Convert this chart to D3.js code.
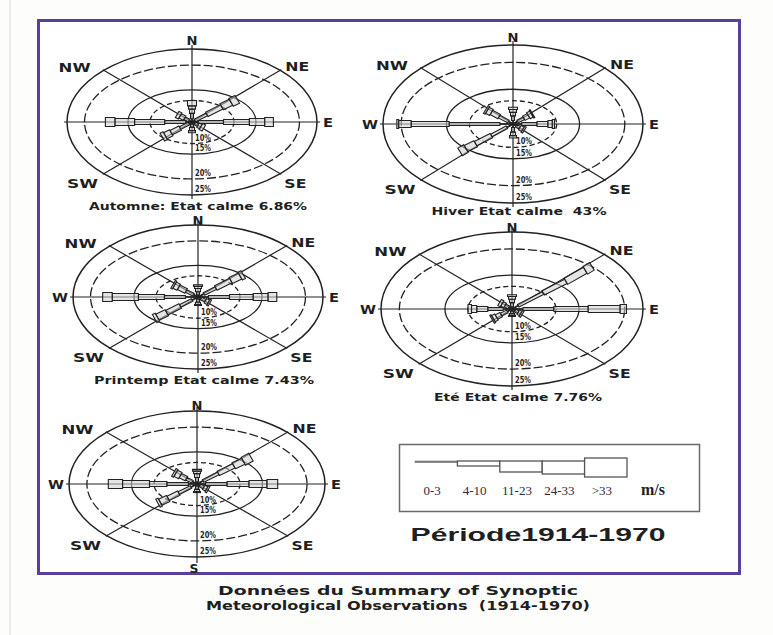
<!DOCTYPE html>
<html>
<head>
<meta charset="utf-8">
<script src="https://cdn.jsdelivr.net/npm/d3@7"></script>
<style>
  body { margin: 0; background: #fdfdfc; }
  svg text { font-family: "DejaVu Sans", "Liberation Sans", Arial, sans-serif; font-weight: bold; fill: #1f1f1f; white-space: pre; }
  svg text.serif { font-family: "Liberation Serif", "DejaVu Serif", serif; font-weight: normal; }
</style>
</head>
<body>
<div id="chart"></div>
<script>
// --- data ---
const directions = ["N", "NE", "E", "SE", "S", "SW", "W", "NW"];
const directionAngles = [90, 45, 0, -45, -90, -135, 180, 135];
const speedClasses = ["0-3", "4-10", "11-23", "24-33", ">33"];
const ringTicks = [10, 15, 20, 25];
const captions = ["Automne: Etat calme 6.86%", "Hiver Etat calme  43%", "Printemp Etat calme 7.43%", "Eté Etat calme 7.76%", ""];

// frequency (%) per direction (N .. NW), per speed class (0-3 .. >33)
const automne = [
  [1.5, 2.5, 2, 1.5, 2.5],
  [1, 4, 5, 3, 2],
  [1.5, 6, 6, 2.5, 1],
  [1, 1, 1, 1, 0],
  [1, 1.5, 1.5, 1, 0],
  [1, 3, 3, 2, 1],
  [1.5, 5, 7, 3, 1.1],
  [1, 1.5, 1.5, 1, 0]
];
const hiver = [
  [1.5, 2, 1.5, 1.2, 1],
  [1.5, 2, 1.5, 1, 0.3],
  [2, 3.5, 2.5, 1, 0.5],
  [1, 1.2, 1, 0.5, 0],
  [1.5, 2, 1.5, 1, 0],
  [2, 5, 5, 3, 0.9],
  [3, 11.4, 4.5, 1.8, 0.5],
  [1.5, 3, 2.5, 1.3, 0.5]
];
const printemp = [
  [1, 1.5, 1.5, 1, 0.8],
  [2, 4, 5, 3, 1],
  [2.5, 5, 5.5, 2.7, 1],
  [1, 1.5, 1, 0.5, 0],
  [1, 1.5, 1, 0.5, 0],
  [2, 4, 4.5, 3, 0.9],
  [3, 5, 6, 3.5, 1.1],
  [1.5, 2.5, 2.5, 1.4, 0.5]
];
const ete = [
  [1, 1.8, 1.5, 1.2, 0.8],
  [2, 8, 6, 3, 1.1],
  [2.5, 7, 6.5, 3.5, 1],
  [1, 1, 0.8, 0.5, 0],
  [1, 1, 0.8, 0.5, 0],
  [1.5, 2, 1.5, 1, 0.4],
  [2, 3.5, 2.5, 1.2, 0.8],
  [1, 1.2, 1, 0.8, 0]
];
const annuel = [
  [1, 2, 1.8, 1.2, 0.8],
  [2, 5, 5, 3, 1.2],
  [2, 5, 5, 3.5, 1.2],
  [1, 1.2, 1, 0.5, 0],
  [1, 1.5, 1, 0.5, 0],
  [2, 4, 3.5, 2.5, 0.7],
  [2, 5, 4, 5, 1.6],
  [1.5, 2, 2, 1.5, 0.6]
];

// --- layout ---
const width = 773, height = 635;
const ink = "#222";

const roses = [
  { data: automne,  cx: 192, cy: 122, rx: 125, ry: 73, capW: 218, capDy: 84, nDy: -9, labels: ["N", "NE", "E", "SE", "SW", "NW"] },
  { data: hiver,    cx: 513, cy: 124, rx: 130, ry: 79, capW: 175, capDy: 87, nDy: -8, labels: ["N", "NE", "E", "SE", "SW", "W", "NW"] },
  { data: printemp, cx: 198, cy: 297, rx: 125, ry: 72, capW: 220, capDy: 83, nDy: -5, labels: ["N", "NE", "E", "SE", "SW", "W", "NW"] },
  { data: ete,      cx: 512, cy: 309, rx: 131, ry: 77, capW: 168, capDy: 88, nDy: -5, labels: ["N", "NE", "E", "SE", "SW", "W", "NW"] },
  { data: annuel,   cx: 197, cy: 484, rx: 128, ry: 73, capW: 0,   capDy: 0,  nDy: -6, labels: ["N", "NE", "E", "SE", "S", "SW", "W", "NW"] }
];
roses.forEach((r, i) => r.caption = captions[i]);

const labelOffset = { N: [0, -9], NE: [17, -4], E: [11, 0], SE: [15, 10], S: [-3, 11], SW: [-21, 10], W: [-13, 0], NW: [-29, -3] };
const labelWidth = { N: 11, NE: 24, E: 10, SE: 22, S: 9, SW: 31, W: 16, NW: 32 };

// percent -> fraction of the outer (25%) ring, as the rings are drawn on the figure
const radiusX = d3.scaleLinear().domain([0, 10, 15, 20, 25]).range([0, 0.336, 0.512, 0.86, 1]);
const radiusY = d3.scaleLinear().domain([0, 10, 15, 20, 25]).range([0, 0.295, 0.44, 0.78, 1]);
const petalWidth = d3.scaleOrdinal().domain(speedClasses).range([1.2, 3, 5, 7, 9]);

const svg = d3.select("#chart").append("svg")
    .attr("width", width)
    .attr("height", height);

svg.append("rect").attr("width", width).attr("height", height).attr("fill", "#fdfdfc");
svg.append("line").attr("x1", 10).attr("x2", 10).attr("y1", 0).attr("y2", height)
    .attr("stroke", "#ececec").attr("stroke-width", 2);

svg.append("rect")
    .attr("x", 38.5).attr("y", 20.5)
    .attr("width", 701).attr("height", 553)
    .attr("fill", "#ffffff")
    .attr("stroke", "#5b3f9c")
    .attr("stroke-width", 3);

function addText(g, txt, x, y, size, len) {
  const t = g.append("text")
      .attr("x", x).attr("y", y)
      .attr("text-anchor", "middle")
      .attr("dominant-baseline", "central")
      .style("font-size", size + "px")
      .text(txt);
  if (len) t.attr("textLength", len).attr("lengthAdjust", "spacingAndGlyphs");
  return t;
}

roses.forEach(rose => {
  const g = svg.append("g");
  const pt = (deg, p) => {
    const a = deg * Math.PI / 180;
    return [rose.cx + radiusX(p) * rose.rx * Math.cos(a), rose.cy - radiusY(p) * rose.ry * Math.sin(a)];
  };

  // rings
  g.selectAll("ellipse")
    .data(ringTicks)
    .join("ellipse")
      .attr("cx", rose.cx).attr("cy", rose.cy)
      .attr("rx", d => radiusX(d) * rose.rx)
      .attr("ry", d => radiusY(d) * rose.ry)
      .attr("fill", "none")
      .attr("stroke", ink)
      .attr("stroke-width", d => d == 25 ? 1.5 : 1.3)
      .attr("stroke-dasharray", d => d == 10 ? "5,3" : d == 20 ? "9,3" : null);

  // spokes
  const spokes = [
    [[rose.cx, rose.cy - rose.ry - 4], [rose.cx, rose.cy + rose.ry + (rose.labels.includes("S") ? 6 : 4)]],
    [[rose.cx - rose.rx - 3, rose.cy], [rose.cx + rose.rx + 3, rose.cy]],
    [pt(135, 25.3), pt(-45, 25.3)],
    [pt(45, 25.3), pt(-135, 25.3)]
  ];
  g.selectAll("line.spoke")
    .data(spokes)
    .join("line")
      .attr("class", "spoke")
      .attr("x1", d => d[0][0]).attr("y1", d => d[0][1])
      .attr("x2", d => d[1][0]).attr("y2", d => d[1][1])
      .attr("stroke", ink)
      .attr("stroke-width", 1.2);

  // petals
  const segs = [];
  rose.data.forEach((vals, di) => {
    let cum = 0;
    vals.forEach((v, ci) => {
      if (v > 0) segs.push({ deg: directionAngles[di], s: cum, e: cum + v, cls: speedClasses[ci], ci });
      cum += v;
    });
  });
  const quad = d => {
    const p0 = pt(d.deg, d.s), p1 = pt(d.deg, d.e);
    const a = d.deg * Math.PI / 180;
    const ux = Math.cos(a) * rose.rx, uy = -Math.sin(a) * rose.ry, L = Math.hypot(ux, uy);
    const w = petalWidth(d.cls) / 2, nx = -uy / L * w, ny = ux / L * w;
    return [[p0[0] + nx, p0[1] + ny], [p1[0] + nx, p1[1] + ny], [p1[0] - nx, p1[1] - ny], [p0[0] - nx, p0[1] - ny]];
  };
  g.selectAll("path.petal")
    .data(segs)
    .join("path")
      .attr("class", "petal")
      .attr("d", d => d.ci == 0 ? d3.line()([pt(d.deg, d.s), pt(d.deg, d.e)]) : d3.line()(quad(d)) + "Z")
      .attr("fill", d => d.ci == 0 ? "none" : "#d0d0d0")
      .attr("fill-opacity", 0.55)
      .attr("stroke", ink)
      .attr("stroke-width", d => d.ci == 0 ? 1.7 : 1.1);

  // direction labels
  rose.labels.forEach(lab => {
    const deg = directionAngles[directions.indexOf(lab)];
    const p = pt(deg, 25);
    const o = lab == "N" ? [0, rose.nDy] : labelOffset[lab];
    addText(g, lab, p[0] + o[0], p[1] + o[1], 13, labelWidth[lab]);
  });

  // ring percentages, just above where each ring crosses the S axis
  ringTicks.forEach(t => {
    g.append("text")
      .attr("x", rose.cx + 3)
      .attr("y", rose.cy + radiusY(t) * rose.ry - 6)
      .attr("dominant-baseline", "central")
      .style("font-size", "9px")
      .attr("textLength", 16).attr("lengthAdjust", "spacingAndGlyphs")
      .text(t + "%");
  });

  if (rose.caption) addText(g, rose.caption, rose.cx + 6, rose.cy + rose.capDy, 11, rose.capW);
});

// legend
const legend = svg.append("g");
legend.append("rect")
    .attr("x", 399.5).attr("y", 444.5)
    .attr("width", 300).attr("height", 67)
    .attr("fill", "#ffffff")
    .attr("stroke", "#6a6a6a")
    .attr("stroke-width", 1.5);

const lx = d3.scaleBand().domain(speedClasses).range([415, 627]);
const legendH = d3.scaleOrdinal().domain(speedClasses).range([1.5, 5, 11, 13, 19]);
legend.selectAll("rect.seg")
  .data(speedClasses)
  .join("rect")
    .attr("class", "seg")
    .attr("x", d => lx(d))
    .attr("y", d => d == ">33" ? 458 : 461)
    .attr("width", lx.bandwidth())
    .attr("height", d => legendH(d))
    .attr("fill", d => d == "0-3" ? "#888" : "#fff")
    .attr("stroke", "#555")
    .attr("stroke-width", d => d == "0-3" ? 0.5 : 1.3);

legend.selectAll("text.cls")
  .data(speedClasses)
  .join("text")
    .attr("class", "serif")
    .attr("x", d => lx(d) + lx.bandwidth() / 2 - 4)
    .attr("y", 495)
    .attr("text-anchor", "middle")
    .style("font-size", "13px")
    .style("fill", "#2b2b3b")
    .text(d => d);

legend.append("text")
    .attr("class", "serif")
    .attr("x", 653).attr("y", 495)
    .attr("text-anchor", "middle")
    .style("font-size", "16px")
    .style("font-weight", "bold")
    .text("m/s");

addText(svg, "Période1914-1970", 538, 534, 19, 255).style("font-family", "Liberation Sans, Arial, sans-serif");

addText(svg, "Données du Summary of Synoptic", 398, 590, 12.5, 360);
addText(svg, "Meteorological Observations  (1914-1970)", 398, 605, 12.5, 384);
</script>
</body>
</html>
